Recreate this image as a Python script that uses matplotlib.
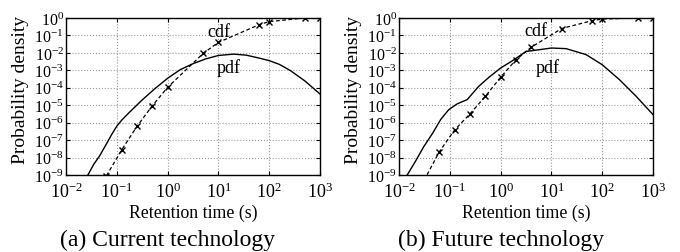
import numpy as np
import matplotlib
matplotlib.use("Agg")
import matplotlib.pyplot as plt
from matplotlib.ticker import LogLocator, NullLocator

plt.rcParams['font.family'] = ['Liberation Serif', 'DejaVu Serif']
plt.rcParams['mathtext.fontset'] = 'custom'
plt.rcParams['mathtext.rm'] = 'Liberation Serif'
plt.rcParams['mathtext.it'] = 'Liberation Serif:italic'

# (a) current technology
pdf_a_t = [0.027, 0.035, 0.046, 0.063, 0.08, 0.1, 0.125, 0.178, 0.316, 0.562, 1.0, 1.78,
           3.16, 5.6, 10.0, 20.0, 35.5, 66.0, 100.0, 158.0, 257.0, 501.0, 1000.0]
pdf_a_p = [1e-9, 4e-9, 1.26e-8, 6.3e-8, 2.2e-7, 6.3e-7, 1.4e-6, 4e-6, 2e-5, 8.9e-5,
           3.5e-4, 1.1e-3, 2.4e-3, 4.5e-3, 7.1e-3, 8.5e-3, 7.4e-3, 4.9e-3, 3.6e-3,
           2.2e-3, 1e-3, 2.5e-4, 4.4e-5]
cdf_a_t = [0.0625, 0.125, 0.25, 0.5, 1.0, 5.0, 10.0, 64.0, 100.0, 500.0, 1000.0]
cdf_a_p = [9e-10, 2.8e-8, 6.2e-7, 9.3e-6, 1.05e-4, 9.3e-3, 4e-2, 0.42, 0.62, 1.0, 1.0]

# (b) future technology
pdf_b_t = [0.0145, 0.021, 0.031, 0.046, 0.066, 0.095, 0.14, 0.22, 0.37, 0.59, 1.0, 1.7,
           3.16, 10.0, 19.5, 48.0, 100.0, 219.0, 468.0, 1000.0]
pdf_b_p = [1e-9, 6e-9, 4.4e-8, 2.5e-7, 1.5e-6, 5.5e-6, 1.2e-5, 2.1e-5, 1.2e-4, 4e-4,
           1.35e-3, 3.5e-3, 1.2e-2, 1.9e-2, 1.75e-2, 8e-3, 2.1e-3, 2.9e-4, 3.2e-5, 2.9e-6]
cdf_b_t = [0.03125, 0.0625, 0.125, 0.25, 0.5, 1.0, 2.0, 4.0, 16.0, 64.0, 100.0, 500.0, 1000.0]
cdf_b_p = [5e-10, 2.2e-8, 3.9e-7, 3.2e-6, 3.2e-5, 4e-4, 4e-3, 2.1e-2, 0.25, 0.71, 0.87, 1.0, 1.0]

panels = [
    (pdf_a_t, pdf_a_p, cdf_a_t, cdf_a_p, (10.2, 0.17), (16.0, 1.5e-3), "(a) Current technology"),
    (pdf_b_t, pdf_b_p, cdf_b_t, cdf_b_p, (5.0, 0.18), (8.3, 1.5e-3), "(b) Future technology"),
]

fig = plt.figure(figsize=(6.8, 2.53), dpi=100)
lefts = [66 / 680, 399 / 680]
for i, (pt, pp, ct, cp, cdf_xy, pdf_xy, cap) in enumerate(panels):
    ax = fig.add_axes([lefts[i], 1 - 176 / 253, 254 / 680, 157 / 253])
    ax.plot(pt, pp, color='black', lw=1.0)
    ax.plot(ct, cp, color='black', lw=0.9, ls=(0, (3, 2)), marker='x', ms=4.5, mew=1.0)
    ax.set_xscale('log')
    ax.set_yscale('log')
    ax.set_xlim(1e-2, 1e3)
    ax.set_ylim(1e-9, 1)
    ax.xaxis.set_major_locator(LogLocator(base=10, numticks=10))
    ax.yaxis.set_major_locator(LogLocator(base=10, numticks=20))
    ax.xaxis.set_minor_locator(NullLocator())
    ax.yaxis.set_minor_locator(NullLocator())
    ax.grid(True, color='#999999', ls=':', lw=0.8)
    ax.tick_params(direction='in', length=3, top=True, right=True)
    ax.tick_params(axis='x', pad=5, labelsize=13)
    ax.tick_params(axis='y', pad=1.5, labelsize=11.5)
    for s in ax.spines.values():
        s.set_linewidth(1.0)
    ax.set_xlabel("Retention time (s)", fontsize=12.8)
    ax.set_ylabel("Probability density", fontsize=14)
    ax.xaxis.set_label_coords(0.5, -0.185)
    ax.yaxis.set_label_coords(-0.146, 0.55)
    ax.text(cdf_xy[0], cdf_xy[1], "cdf", fontsize=13, ha='center', va='center')
    ax.text(pdf_xy[0], pdf_xy[1], "pdf", fontsize=13, ha='center', va='center')
    fig.text(lefts[i] + 0.15, 0.05, cap, fontsize=17, ha='center', va='center')

fig.savefig("out.png", dpi=100)
